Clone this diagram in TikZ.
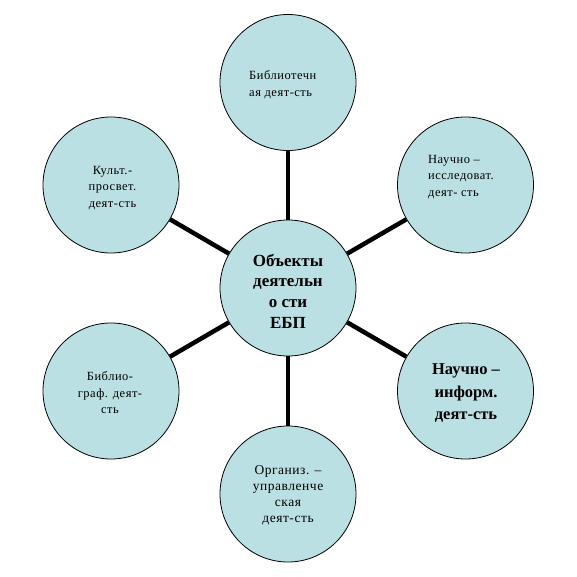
\documentclass[tikz,border=0pt]{standalone}
\usepackage{fontspec}
\setmainfont{Liberation Serif}
\newfontfamily\spaced[LetterSpace=4]{Liberation Serif}
\definecolor{bub}{RGB}{187,224,228}
\begin{document}
\begin{tikzpicture}[x=1pt,y=-1pt,
  bubble/.style={circle,draw=black,line width=0.8pt,fill=bub,minimum size=136pt,inner sep=0pt},
  link/.style={line width=4.5pt,black},
  small/.style={inner sep=0pt,font=\spaced\fontsize{12.5}{16.5}\selectfont},
  smallc/.style={small,align=center},
  smalll/.style={small,align=left,anchor=west},
  big/.style={inner sep=0pt,align=center,font=\bfseries\fontsize{16.5}{22.5}\selectfont}]
\useasboundingbox (0,0) rectangle (577,577);
\node[bubble] (c) at (288,288) {};
\node[bubble] (t) at (288,82.5) {};
\node[bubble] (tr) at (465.5,185) {};
\node[bubble] (br) at (465.5,391) {};
\node[bubble] (b) at (288,494) {};
\node[bubble] (bl) at (111,391) {};
\node[bubble] (tl) at (111,185) {};
\draw[link] (c) -- (t);
\draw[link] (c) -- (tr);
\draw[link] (c) -- (br);
\draw[link] (c) -- (b);
\draw[link] (c) -- (bl);
\draw[link] (c) -- (tl);
\node[smalll] (tt) at (249,84.5) {Библиотечн\\ая деят-сть};
\node[smalll] (trt) at (428,177) {Научно –\\исследоват.\\деят- сть};
\node[big] (brt) at (466,393.5) {Научно –\\информ.\\деят-сть};
\node[smallc,font=\spaced\fontsize{13.5}{16}\selectfont] (bt) at (288,495) {Организ. –\\управленче\\ская\\деят-сть};
\node[smallc] (blt) at (110,393) {Библио-\\граф. деят-\\сть};
\node[smallc] (tlt) at (112.5,188) {Культ.-\\просвет.\\деят-сть};
\node[big,font=\bfseries\fontsize{17}{20.7}\selectfont] (ct) at (288,291) {Объекты\\деятельн\\о сти\\ЕБП};
\end{tikzpicture}
\end{document}
